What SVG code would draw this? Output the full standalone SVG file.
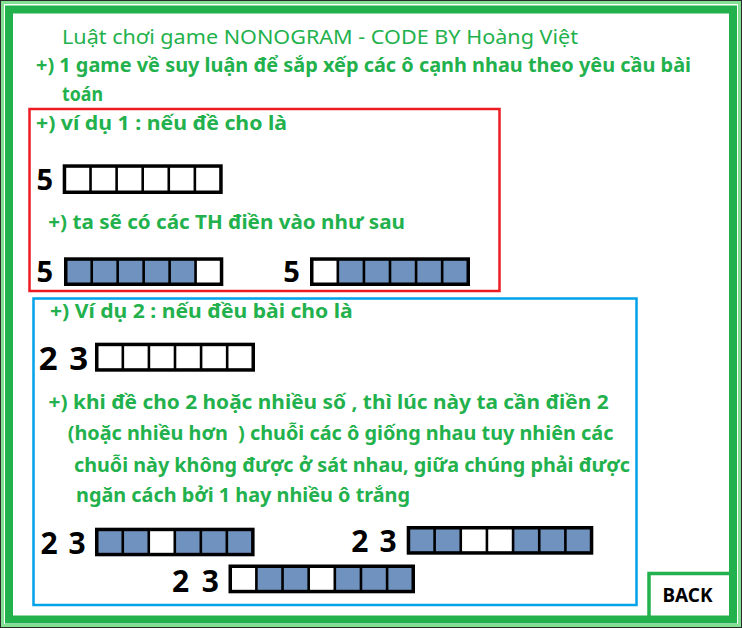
<svg xmlns="http://www.w3.org/2000/svg" width="742" height="628" viewBox="0 0 742 628">
<style>
.t{font-family:"Noto Sans","DejaVu Sans",sans-serif;font-size:20px;font-weight:bold;fill:#22b14c}
.tn{font-weight:normal}
.d{font-family:"Noto Sans","DejaVu Sans",sans-serif;font-weight:bold;fill:#000}
.ob{fill:none;stroke:#000;stroke-width:3.5}
.dv{stroke:#000;stroke-width:2.6}
.f{fill:#7092be}
</style>
<rect x="0" y="0" width="742" height="628" fill="#fff"/>
<g id="back">
<rect x="649" y="573.5" width="84" height="46" fill="#fff" stroke="#22b14c" stroke-width="3.5"/>
<text class="d" x="662.5" y="602.3" font-size="20" textLength="50" lengthAdjust="spacingAndGlyphs">BACK</text>
</g>
<g id="frame">
<rect x="0.5" y="0.5" width="741" height="627" fill="none" stroke="#2a2a2a" stroke-width="1"/>
<rect x="2.5" y="2.5" width="737" height="623" fill="none" stroke="#82e093" stroke-width="3"/>
<rect x="9" y="9.5" width="724" height="610" fill="none" stroke="#22b14c" stroke-width="8"/>
</g>
<g id="intro">
<text class="t tn" x="62" y="43.5" textLength="516" lengthAdjust="spacingAndGlyphs">Luật chơi game NONOGRAM - CODE BY Hoàng Việt</text>
<text class="t" x="36" y="72" textLength="655" lengthAdjust="spacingAndGlyphs">+) 1 game về suy luận để sắp xếp các ô cạnh nhau theo yêu cầu bài</text>
<text class="t" x="62" y="101" textLength="41" lengthAdjust="spacingAndGlyphs">toán</text>
</g>
<g id="example1">
<rect x="29.5" y="109" width="470" height="182" fill="none" stroke="#ed1c24" stroke-width="2.5"/>
<text class="t" x="36" y="129.5" textLength="251" lengthAdjust="spacingAndGlyphs">+) ví dụ 1 : nếu đề cho là</text>
<text class="d" x="36.6" y="190" font-size="29">5</text>
<g id="ex1-grid">
<path class="dv" d="M90.53 166v26.2M116.62 166v26.2M142.7 166v26.2M168.78 166v26.2M194.87 166v26.2"/>
<rect class="ob" x="64.45" y="166.05" width="156.5" height="26.2"/>
</g>
<text class="t" x="48.3" y="229.3" textLength="356.7" lengthAdjust="spacingAndGlyphs">+) ta sẽ có các TH điền vào như sau</text>
<text class="d" x="36.6" y="282" font-size="29">5</text>
<g id="ex1-case1">
<rect class="f" x="65.75" y="259.05" width="129.83" height="25.2"/>
<path class="dv" d="M91.72 259v25.2M117.68 259v25.2M143.65 259v25.2M169.62 259v25.2M195.58 259v25.2"/>
<rect class="ob" x="65.75" y="259.05" width="155.8" height="25.2"/>
</g>
<text class="d" x="283.3" y="282" font-size="29">5</text>
<g id="ex1-case2">
<rect class="f" x="337.83" y="259.05" width="130.42" height="25.2"/>
<path class="dv" d="M337.83 259v25.2M363.92 259v25.2M390 259v25.2M416.08 259v25.2M442.17 259v25.2"/>
<rect class="ob" x="311.75" y="259.05" width="156.5" height="25.2"/>
</g>
</g>
<g id="example2">
<rect x="33.5" y="298.5" width="603" height="306.5" fill="none" stroke="#00a2e8" stroke-width="2.5"/>
<text class="t" x="50" y="318.3" textLength="302.7" lengthAdjust="spacingAndGlyphs">+) Ví dụ 2 : nếu đều bài cho là</text>
<text class="d" x="38.7 55 69.2" y="370" font-size="33">2 3</text>
<g id="ex2-grid">
<path class="dv" d="M122.83 344.4v25.5M148.92 344.4v25.5M175 344.4v25.5M201.08 344.4v25.5M227.17 344.4v25.5"/>
<rect class="ob" x="96.75" y="344.45" width="156.5" height="25.5"/>
</g>
<text class="t" x="48.6" y="408.5" textLength="560" lengthAdjust="spacingAndGlyphs">+) khi đề cho 2 hoặc nhiều số , thì lúc này ta cần điền 2</text>
<text class="t" x="67.7" y="440" textLength="545.7" lengthAdjust="spacingAndGlyphs" xml:space="preserve">(hoặc nhiều hơn  ) chuỗi các ô giống nhau tuy nhiên các</text>
<text class="t" x="74" y="471.7" textLength="556" lengthAdjust="spacingAndGlyphs">chuỗi này không được ở sát nhau, giữa chúng phải được</text>
<text class="t" x="76" y="501.7" textLength="334" lengthAdjust="spacingAndGlyphs">ngăn cách bởi 1 hay nhiều ô trắng</text>
<text class="d" x="40.4 56 68.6" y="554.3" font-size="30">2 3</text>
<g id="ex2-case1">
<rect class="f" x="96.75" y="529.45" width="52.03" height="25.1"/>
<rect class="f" x="174.8" y="529.45" width="78.05" height="25.1"/>
<path class="dv" d="M122.77 529.4v25.1M148.78 529.4v25.1M174.8 529.4v25.1M200.82 529.4v25.1M226.83 529.4v25.1"/>
<rect class="ob" x="96.75" y="529.45" width="156.1" height="25.1"/>
</g>
<text class="d" x="351.3 367 379.6" y="552.3" font-size="30">2 3</text>
<g id="ex2-case2">
<rect class="f" x="408.45" y="527.75" width="52.31" height="25.2"/>
<rect class="f" x="513.08" y="527.75" width="78.47" height="25.2"/>
<path class="dv" d="M434.61 527.7v25.2M460.76 527.7v25.2M486.92 527.7v25.2M513.08 527.7v25.2M539.24 527.7v25.2M565.39 527.7v25.2"/>
<rect class="ob" x="408.45" y="527.75" width="183.1" height="25.2"/>
</g>
<text class="d" x="172 188 201.8" y="591.7" font-size="30">2 3</text>
<g id="ex2-case3">
<rect class="f" x="256.39" y="566.25" width="52.29" height="25.3"/>
<rect class="f" x="334.82" y="566.25" width="78.43" height="25.3"/>
<path class="dv" d="M256.39 566.2v25.3M282.54 566.2v25.3M308.68 566.2v25.3M334.82 566.2v25.3M360.96 566.2v25.3M387.11 566.2v25.3"/>
<rect class="ob" x="230.25" y="566.25" width="183" height="25.3"/>
</g>
</g>
</svg>
